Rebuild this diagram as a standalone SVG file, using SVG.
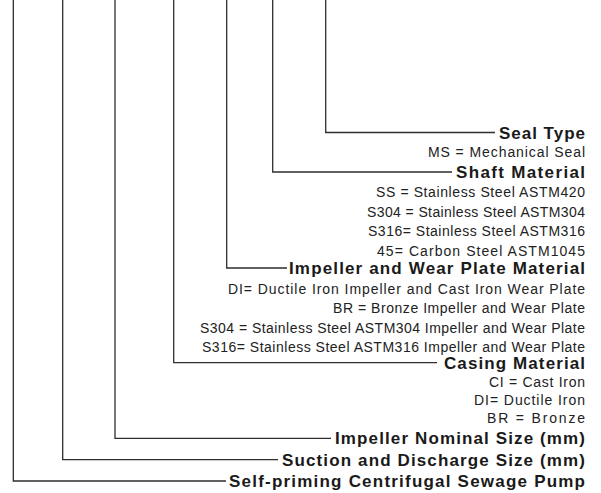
<svg xmlns="http://www.w3.org/2000/svg" width="601" height="493" viewBox="0 0 601 493">
<style>
.bg{fill:#ffffff}
.c{fill:none;stroke:#2e2e2e;stroke-width:1.3}
.h{font-family:"Liberation Sans",Arial,sans-serif;font-weight:bold;font-size:17px;fill:#1a1a1a;text-anchor:end}
.d{font-family:"Liberation Sans",Arial,sans-serif;font-size:14px;fill:#222222;text-anchor:end}
</style>
<rect class="bg" x="0" y="0" width="601" height="493"/>
<g id="connectors">
<path class="c" d="M325.7,0 V132.5 H495"/>
<path class="c" d="M272.7,0 V172 H452"/>
<path class="c" d="M226.7,0 V268 H287"/>
<path class="c" d="M173.7,0 V362.7 H437"/>
<path class="c" d="M115,0 V438.3 H331"/>
<path class="c" d="M62.7,0 V459.7 H278"/>
<path class="c" d="M13.3,0 V481 H226"/>
</g>
<g id="seal-type">
<text class="h" x="585" y="138.5" textLength="86" lengthAdjust="spacing">Seal Type</text>
<text class="d" x="585" y="157" textLength="157" lengthAdjust="spacing">MS = Mechanical Seal</text>
</g>
<g id="shaft-material">
<text class="h" x="585" y="178" textLength="129" lengthAdjust="spacing">Shaft Material</text>
<text class="d" x="585" y="197" textLength="209" lengthAdjust="spacing">SS = Stainless Steel ASTM420</text>
<text class="d" x="585" y="216.5" textLength="218" lengthAdjust="spacing">S304 = Stainless Steel ASTM304</text>
<text class="d" x="585" y="236" textLength="217" lengthAdjust="spacing">S316= Stainless Steel ASTM316</text>
<text class="d" x="585" y="255.5" textLength="208" lengthAdjust="spacing">45= Carbon Steel ASTM1045</text>
</g>
<g id="impeller-wear-plate-material">
<text class="h" x="585" y="274" textLength="296" lengthAdjust="spacing">Impeller and Wear Plate Material</text>
<text class="d" x="585" y="294" textLength="357" lengthAdjust="spacing">DI= Ductile Iron Impeller and Cast Iron Wear Plate</text>
<text class="d" x="585" y="313" textLength="252" lengthAdjust="spacing">BR = Bronze Impeller and Wear Plate</text>
<text class="d" x="585" y="333" textLength="385" lengthAdjust="spacing">S304 = Stainless Steel ASTM304 Impeller and Wear Plate</text>
<text class="d" x="585" y="352" textLength="383" lengthAdjust="spacing">S316= Stainless Steel ASTM316 Impeller and Wear Plate</text>
</g>
<g id="casing-material">
<text class="h" x="585" y="368.5" textLength="141" lengthAdjust="spacing">Casing Material</text>
<text class="d" x="585" y="386.5" textLength="96" lengthAdjust="spacing">CI = Cast Iron</text>
<text class="d" x="585" y="404.5" textLength="111" lengthAdjust="spacing">DI= Ductile Iron</text>
<text class="d" x="585" y="422.5" textLength="98" lengthAdjust="spacing">BR = Bronze</text>
</g>
<g id="impeller-nominal-size">
<text class="h" x="585" y="444.2" textLength="250" lengthAdjust="spacing">Impeller Nominal Size (mm)</text>
</g>
<g id="suction-discharge-size">
<text class="h" x="585" y="465.7" textLength="303" lengthAdjust="spacing">Suction and Discharge Size (mm)</text>
</g>
<g id="pump-type">
<text class="h" x="585" y="487" textLength="356" lengthAdjust="spacing">Self-priming Centrifugal Sewage Pump</text>
</g>
</svg>
